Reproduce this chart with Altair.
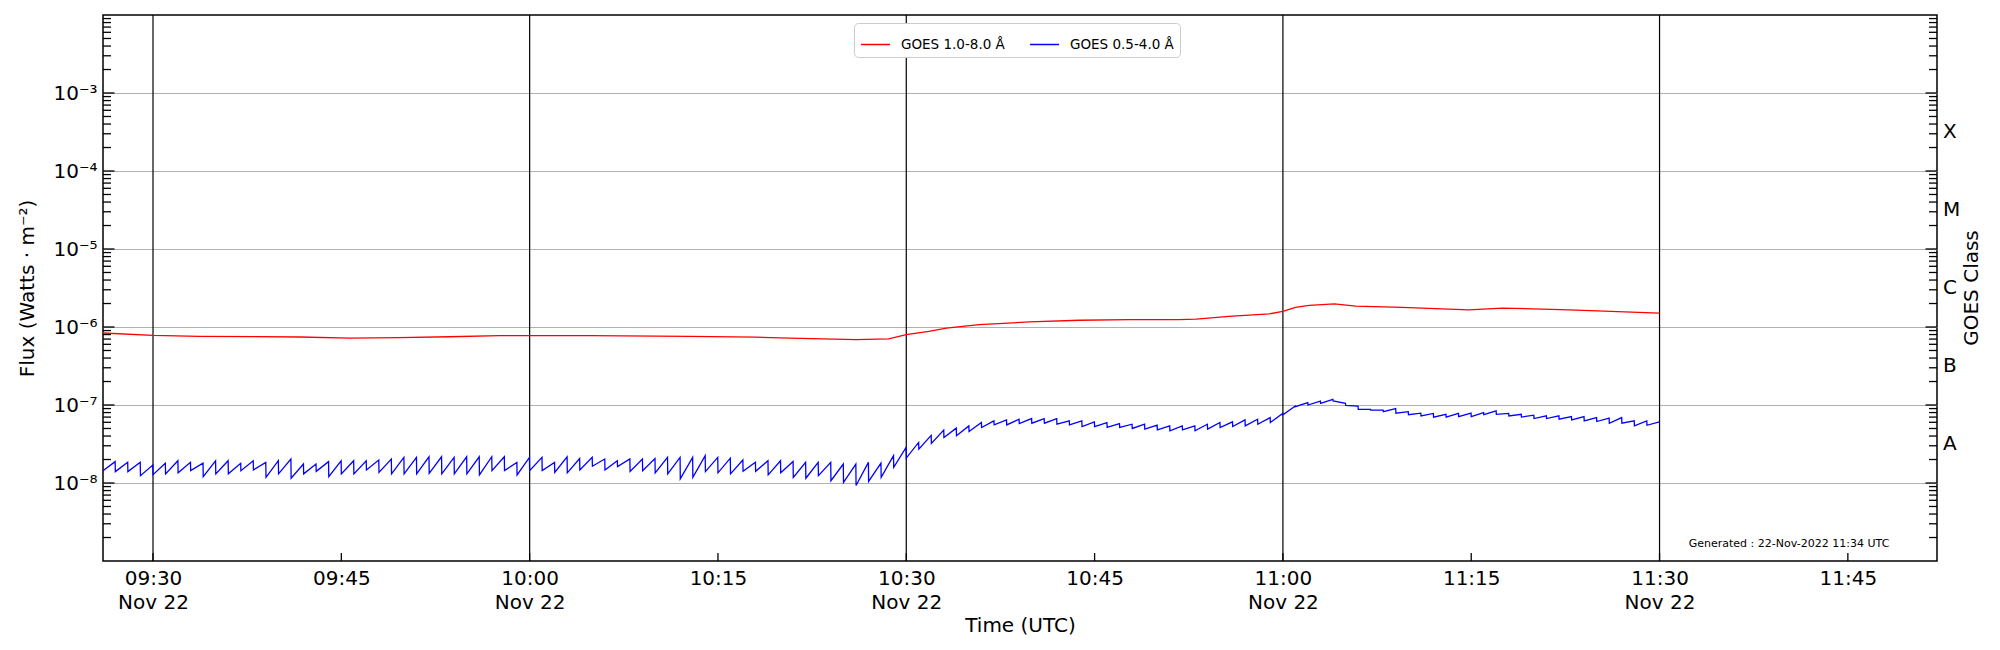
import altair as alt
import pandas as pd

DAY = "2022-11-22"
W, H = 1834, 546

RED_LABEL = "GOES 1.0-8.0 Å"
BLUE_LABEL = "GOES 0.5-4.0 Å"

# ---- long channel (1.0-8.0 A) : times / flux
red_times = ["09:26:01", "09:30:00", "09:33:42", "09:41:42", "09:45:42", "09:49:36",
             "09:53:36", "09:57:36", "10:00:00", "10:04:48", "10:12:42", "10:18:00",
             "10:20:42", "10:26:00", "10:28:36", "10:30:00", "10:31:48", "10:33:12",
             "10:35:48", "10:39:48", "10:43:48", "10:47:48", "10:51:42", "10:53:06",
             "10:55:42", "10:58:54", "11:00:00", "11:01:00", "11:02:06", "11:04:06",
             "11:05:48", "11:09:30", "11:14:48", "11:17:30", "11:22:48", "11:30:00"]
red_flux = [8.38e-7, 7.82e-7, 7.6e-7, 7.44e-7, 7.22e-7, 7.3e-7,
            7.5e-7, 7.75e-7, 7.74e-7, 7.74e-7, 7.6e-7, 7.4e-7,
            7.22e-7, 6.9e-7, 7.05e-7, 7.97e-7, 8.8e-7, 9.7e-7,
            1.07e-6, 1.16e-6, 1.22e-6, 1.24e-6, 1.24e-6, 1.26e-6,
            1.37e-6, 1.47e-6, 1.59e-6, 1.78e-6, 1.89e-6, 1.98e-6,
            1.85e-6, 1.78e-6, 1.66e-6, 1.75e-6, 1.66e-6, 1.51e-6]

# ---- short channel (0.5-4.0 A): one sawtooth tooth per minute, 09:26 .. 11:29
blue_first_minute = "09:26:00"
blue_low = [
    1.44e-8, 1.40e-8, 1.40e-8, 1.24e-8, 1.28e-8, 1.31e-8, 1.35e-8, 1.44e-8, 1.21e-8, 1.31e-8,
    1.31e-8, 1.44e-8, 1.47e-8, 1.18e-8, 1.31e-8, 1.15e-8, 1.31e-8, 1.41e-8, 1.21e-8, 1.31e-8,
    1.31e-8, 1.47e-8, 1.37e-8, 1.31e-8, 1.31e-8, 1.31e-8, 1.33e-8, 1.31e-8, 1.31e-8, 1.31e-8,
    1.27e-8, 1.44e-8, 1.44e-8, 1.27e-8, 1.44e-8, 1.44e-8, 1.37e-8, 1.35e-8, 1.47e-8, 1.64e-8,
    1.47e-8, 1.62e-8, 1.41e-8, 1.44e-8, 1.35e-8, 1.31e-8, 1.13e-8, 1.18e-8, 1.40e-8, 1.35e-8,
    1.31e-8, 1.41e-8, 1.41e-8, 1.27e-8, 1.35e-8, 1.18e-8, 1.15e-8, 1.24e-8, 1.07e-8, 1.02e-8,
    9.3e-9, 1.05e-8, 1.18e-8, 1.59e-8, 2.09e-8, 2.72e-8, 3.21e-8, 3.84e-8, 4.03e-8, 4.57e-8,
    5.15e-8, 5.56e-8, 5.56e-8, 5.78e-8, 5.84e-8, 5.84e-8, 5.67e-8, 5.56e-8, 5.3e-8, 5.3e-8,
    5.15e-8, 5.15e-8, 5.0e-8, 4.9e-8, 4.8e-8, 4.67e-8, 4.8e-8, 4.67e-8, 4.9e-8, 5.15e-8,
    5.3e-8, 5.4e-8, 5.67e-8, 5.96e-8, 7.5e-8, 9.5e-8, 1.0e-7, 1.05e-7, 1.125e-7, 9.9e-8,
    8.8e-8, 8.6e-8, 8.2e-8, 7.85e-8, 7.5e-8, 7.25e-8, 7.0e-8, 7.0e-8, 7.1e-8, 7.1e-8,
    7.5e-8, 7.6e-8, 7.25e-8, 7.0e-8, 6.7e-8, 6.7e-8, 6.57e-8, 6.44e-8, 6.26e-8, 6.14e-8,
    5.84e-8, 5.84e-8, 5.4e-8, 5.5e-8,
]
blue_high = [
    1.88e-8, 1.84e-8, 1.84e-8, 1.70e-8, 1.79e-8, 1.93e-8, 1.84e-8, 1.80e-8, 1.93e-8, 1.93e-8,
    1.79e-8, 1.93e-8, 1.84e-8, 1.93e-8, 2.03e-8, 1.75e-8, 1.75e-8, 1.88e-8, 1.93e-8, 1.93e-8,
    1.93e-8, 1.97e-8, 2.03e-8, 2.13e-8, 2.13e-8, 2.17e-8, 2.17e-8, 2.13e-8, 2.17e-8, 2.17e-8,
    2.17e-8, 2.17e-8, 1.84e-8, 2.13e-8, 2.13e-8, 1.84e-8, 2.17e-8, 2.06e-8, 2.13e-8, 2.03e-8,
    1.93e-8, 2.03e-8, 2.03e-8, 2.06e-8, 2.13e-8, 2.13e-8, 2.13e-8, 2.24e-8, 2.13e-8, 2.08e-8,
    1.97e-8, 1.84e-8, 1.93e-8, 1.93e-8, 1.89e-8, 1.84e-8, 1.84e-8, 1.84e-8, 1.75e-8, 1.75e-8,
    1.84e-8, 1.80e-8, 2.24e-8, 2.86e-8, 3.31e-8, 4.09e-8, 4.76e-8, 5.05e-8, 5.4e-8, 5.96e-8,
    6.26e-8, 6.44e-8, 6.57e-8, 6.7e-8, 6.7e-8, 6.7e-8, 6.26e-8, 6.26e-8, 6.08e-8, 5.96e-8,
    5.78e-8, 5.67e-8, 5.67e-8, 5.51e-8, 5.4e-8, 5.4e-8, 5.4e-8, 5.67e-8, 5.96e-8, 6.08e-8,
    6.44e-8, 6.57e-8, 6.9e-8, 7.8e-8, 9.7e-8, 1.07e-7, 1.125e-7, 1.18e-7, 1.05e-7, 9.7e-8,
    8.8e-8, 8.6e-8, 9.0e-8, 8.2e-8, 7.85e-8, 7.8e-8, 7.6e-8, 7.8e-8, 7.85e-8, 8.0e-8,
    8.4e-8, 7.8e-8, 7.6e-8, 7.4e-8, 7.25e-8, 7.25e-8, 7.1e-8, 7.1e-8, 6.9e-8, 6.8e-8,
    6.9e-8, 6.26e-8, 6.26e-8, 6.08e-8,
]
assert len(blue_low) == len(blue_high)

# ---- axes / annotation text
x_domain = ["09:26:01", "11:52:06"]
xtick_times = ["09:30", "09:45", "10:00", "10:15", "10:30", "10:45",
               "11:00", "11:15", "11:30", "11:45"]
vline_times = ["09:30", "10:00", "10:30", "11:00", "11:30"]
ytick_vals = [1e-8, 1e-7, 1e-6, 1e-5, 1e-4, 1e-3]
ytick_labels = ["10⁻⁸", "10⁻⁷", "10⁻⁶", "10⁻⁵", "10⁻⁴", "10⁻³"]
class_labels = ["X", "M", "C", "B", "A"]
class_flux = [10 ** -3.5, 10 ** -4.5, 10 ** -5.5, 10 ** -6.5, 10 ** -7.5]
generated_text = "Generated : 22-Nov-2022 11:34 UTC"


def iso(hms):
    if len(hms) == 5:
        hms = hms + ":00"
    return f"{DAY}T{hms}Z"


def ms(hms):
    return int(pd.Timestamp(iso(hms)).timestamp() * 1000)


# ---- tables
red_df = pd.DataFrame({"time": [iso(t) for t in red_times], "flux": red_flux,
                       "series": RED_LABEL})

base = pd.Timestamp(iso(blue_first_minute))
rows = []
for i, (lo, hi) in enumerate(zip(blue_low, blue_high)):
    t0 = base + pd.Timedelta(minutes=i) + (pd.Timedelta(seconds=1) if i == 0 else pd.Timedelta(0))
    t1 = base + pd.Timedelta(minutes=i, seconds=59)
    rows.append({"time": t0.strftime("%Y-%m-%dT%H:%M:%SZ"), "flux": lo, "series": BLUE_LABEL})
    rows.append({"time": t1.strftime("%Y-%m-%dT%H:%M:%SZ"), "flux": hi, "series": BLUE_LABEL})
blue_df = pd.DataFrame(rows)

lines_df = pd.concat([red_df, blue_df], ignore_index=True)

vline_df = pd.DataFrame({"time": [iso(t) for t in vline_times]})
xtick_df = pd.DataFrame({"time": [iso(t) for t in xtick_times]})
major_df = pd.DataFrame({"flux": ytick_vals})
minor_df = pd.DataFrame({"flux": [k * 10.0 ** n for n in range(-9, -2) for k in range(2, 10)]})
class_df = pd.DataFrame({"flux": class_flux, "cls": class_labels})
note_df = pd.DataFrame({"txt": [generated_text]})
rtitle_df = pd.DataFrame({"txt": ["GOES Class"]})

# ---- scales / axes
x_scale = alt.Scale(type="utc", domain=[ms(x_domain[0]), ms(x_domain[1])])
y_scale = alt.Scale(type="log", domain=[1e-9, 1e-2])

label_list = "[" + ",".join("'" + s + "'" for s in ytick_labels) + "]"
y_axis = alt.Axis(
    values=ytick_vals,
    labelExpr=label_list + "[round(log(datum.value)/LN10)+8]",
    grid=True, gridColor="#b0b0b0", gridWidth=1.2,
    ticks=False, domain=False,
    labelFontSize=20, labelPadding=6, labelColor="black",
    labelOverlap=False, labelFlush=False,
    title="Flux (Watts · m⁻²)", titleFontSize=20, titleFontWeight="normal",
    titleColor="black", titleAngle=270, titleX=-76, titleY=H / 2,
    titleAlign="center", titleBaseline="middle",
)
x_axis = alt.Axis(
    values=[ms(t) for t in xtick_times],
    labelExpr="utcminutes(datum.value) % 30 == 0 ? [utcFormat(datum.value, '%H:%M'), utcFormat(datum.value, '%b %d')] : utcFormat(datum.value, '%H:%M')",
    grid=False, ticks=False, domain=False,
    labelFontSize=20, labelLineHeight=24, labelPadding=7, labelColor="black",
    labelOverlap=False, labelFlush=False,
    title="Time (UTC)", titleFontSize=20, titleFontWeight="normal",
    titleColor="black", titleY=64, titleBaseline="middle",
)

X = alt.X("time:T", scale=x_scale, axis=x_axis)
Y = alt.Y("flux:Q", scale=y_scale, axis=y_axis)

vlines = alt.Chart(vline_df).mark_rule(color="black", strokeWidth=1.2).encode(x=X)

left_major = alt.Chart(major_df).mark_rule(color="black", strokeWidth=1.3).encode(
    y=Y, x=alt.value(0), x2=alt.value(11.5))
left_minor = alt.Chart(minor_df).mark_rule(color="black", strokeWidth=1.3).encode(
    y=Y, x=alt.value(0), x2=alt.value(8))
right_major = alt.Chart(major_df).mark_rule(color="black", strokeWidth=1.3).encode(
    y=Y, x=alt.value(W), x2=alt.value(W - 11.5))
right_minor = alt.Chart(minor_df).mark_rule(color="black", strokeWidth=1.3).encode(
    y=Y, x=alt.value(W), x2=alt.value(W - 8))
bottom_ticks = alt.Chart(xtick_df).mark_rule(color="black", strokeWidth=1.3).encode(
    x=X, y=alt.value(H), y2=alt.value(H - 8))

lines = alt.Chart(lines_df).mark_line(strokeWidth=1.3).encode(
    x=X, y=Y,
    color=alt.Color(
        "series:N",
        scale=alt.Scale(domain=[RED_LABEL, BLUE_LABEL], range=["red", "blue"]),
        legend=alt.Legend(
            orient="none", legendX=751, legendY=8, direction="horizontal", title=None,
            symbolType="stroke", symbolSize=841, symbolStrokeWidth=1.5,
            labelFontSize=13.5, labelOffset=10, labelColor="black", labelLimit=300,
            columnPadding=22, padding=6, strokeColor="#cccccc", cornerRadius=4,
            fillColor="white",
        ),
    ),
    detail="series:N",
)

classes = alt.Chart(class_df).mark_text(
    align="left", baseline="middle", fontSize=20, color="black").encode(
    y=Y, x=alt.value(W + 6), text="cls:N")

right_title = alt.Chart(rtitle_df).mark_text(
    angle=270, align="center", baseline="middle", fontSize=20, color="black").encode(
    x=alt.value(W + 35), y=alt.value(H / 2), text="txt:N")

note = alt.Chart(note_df).mark_text(
    align="center", baseline="middle", fontSize=11, color="black").encode(
    x=alt.value(W - 148), y=alt.value(H - 17), text="txt:N")

chart = alt.layer(
    vlines, left_major, left_minor, right_major, right_minor, bottom_ticks,
    lines, classes, right_title, note,
).properties(
    width=W, height=H, autosize="none",
    padding={"left": 95, "top": 7, "right": 55, "bottom": 80},
).configure(
    font="DejaVu Sans",
).configure_view(
    stroke="black", strokeWidth=1.5,
)

chart.save("out.html", embed_options={"renderer": "svg", "actions": False})
